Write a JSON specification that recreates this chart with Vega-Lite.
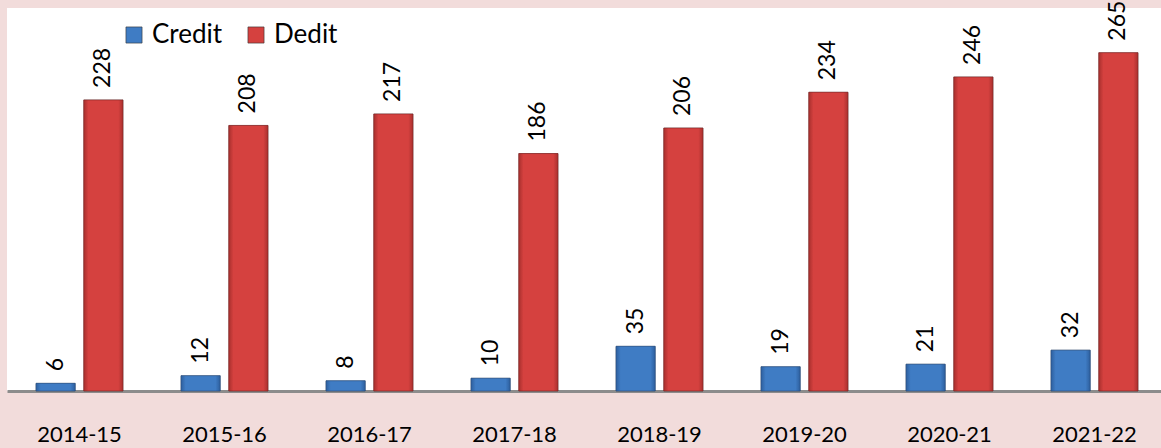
{
  "$schema": "https://vega.github.io/schema/vega-lite/v6.json",
  "width": 1160,
  "height": 383,
  "autosize": {"type": "none"},
  "padding": {"left": 7, "top": 8, "right": 0, "bottom": 57},
  "background": "#F2DCDB",
  "config": {
    "view": {"fill": "white", "stroke": null},
    "font": "Lato"
  },
  "data": {
    "values": [
      {"year": "2014-15", "type": "Credit", "value": 6},
      {"year": "2014-15", "type": "Dedit", "value": 228},
      {"year": "2015-16", "type": "Credit", "value": 12},
      {"year": "2015-16", "type": "Dedit", "value": 208},
      {"year": "2016-17", "type": "Credit", "value": 8},
      {"year": "2016-17", "type": "Dedit", "value": 217},
      {"year": "2017-18", "type": "Credit", "value": 10},
      {"year": "2017-18", "type": "Dedit", "value": 186},
      {"year": "2018-19", "type": "Credit", "value": 35},
      {"year": "2018-19", "type": "Dedit", "value": 206},
      {"year": "2019-20", "type": "Credit", "value": 19},
      {"year": "2019-20", "type": "Dedit", "value": 234},
      {"year": "2020-21", "type": "Credit", "value": 21},
      {"year": "2020-21", "type": "Dedit", "value": 246},
      {"year": "2021-22", "type": "Credit", "value": 32},
      {"year": "2021-22", "type": "Dedit", "value": 265}
    ]
  },
  "encoding": {
    "x": {
      "field": "year", "type": "nominal",
      "scale": {"paddingInner": 0.4, "paddingOuter": 0.2},
      "axis": {
        "title": null, "labelAngle": 0, "labelFontSize": 22, "labelColor": "#000000",
        "labelFontWeight": "normal",
        "labelPadding": 33, "ticks": false, "domainColor": "#8C8C8C", "domainWidth": 3,
        "labelFont": "Lato"
      }
    },
    "xOffset": {"field": "type", "type": "nominal", "scale": {"domain": ["Credit", "Dedit"], "paddingInner": 0.18, "paddingOuter": 0}},
    "y": {
      "field": "value", "type": "quantitative",
      "scale": {"domain": [0, 300], "nice": false},
      "axis": null
    }
  },
  "layer": [
    {
      "mark": {"type": "bar", "stroke": "#3A3A3A", "strokeWidth": 0.6, "strokeOpacity": 0.6},
      "encoding": {
        "color": {
          "field": "type", "type": "nominal",
          "scale": {"domain": ["Credit", "Dedit"], "range": ["#3F7CC4", "#D5413F"]},
          "legend": {
            "title": null, "orient": "none", "direction": "horizontal",
            "legendX": 114, "legendY": 14, "labelFontSize": 26, "labelColor": "#000000",
            "symbolType": "square", "symbolSize": 260, "symbolStrokeWidth": 0.6, "symbolStrokeColor": "#333333",
            "columnPadding": 20, "labelOffset": 5, "labelFont": "Lato"
          }
        }
      }
    },
    {
      "transform": [{"filter": "datum.type === 'Credit'"}],
      "mark": {
        "type": "bar", "stroke": "#2A4F80", "strokeWidth": 0.6,
        "fill": {"gradient": "linear", "x1": 0, "x2": 1, "y1": 0, "y2": 0, "stops": [
          {"offset": 0, "color": "#2D5F9E"}, {"offset": 0.12, "color": "#3F7CC4"},
          {"offset": 0.88, "color": "#3F7CC4"}, {"offset": 1, "color": "#2D5F9E"}]}
      }
    },
    {
      "transform": [{"filter": "datum.type === 'Dedit'"}],
      "mark": {
        "type": "bar", "stroke": "#7E2423", "strokeWidth": 0.6,
        "fill": {"gradient": "linear", "x1": 0, "x2": 1, "y1": 0, "y2": 0, "stops": [
          {"offset": 0, "color": "#A9302E"}, {"offset": 0.12, "color": "#D5413F"},
          {"offset": 0.88, "color": "#D5413F"}, {"offset": 1, "color": "#A9302E"}]}
      }
    },
    {
      "mark": {"type": "text", "angle": -90, "align": "left", "baseline": "middle", "dx": 12, "fontSize": 23, "color": "#000000", "font": "Lato"},
      "encoding": {"text": {"field": "value", "type": "quantitative"}}
    }
  ]
}
